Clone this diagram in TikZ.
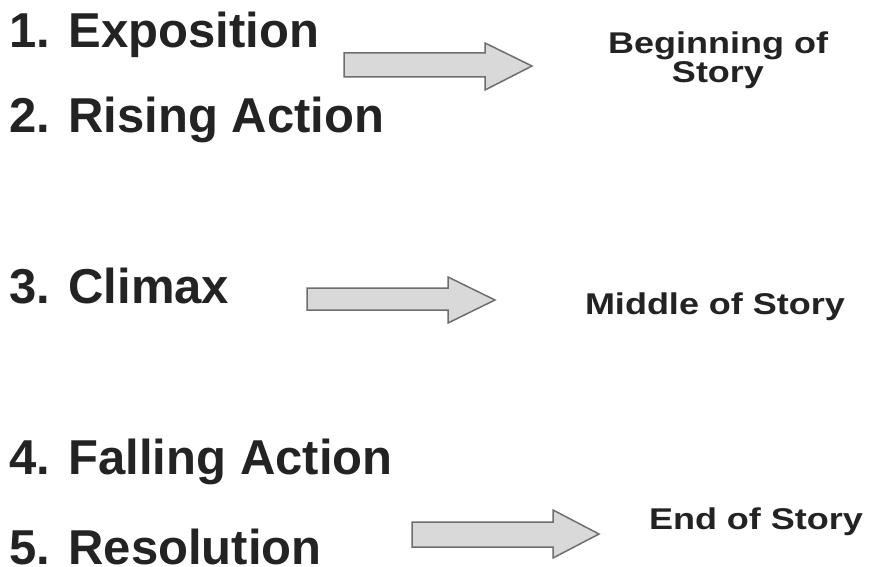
\documentclass[tikz,border=0pt]{standalone}
\usepackage{fontspec}
\setmainfont{Liberation Sans}
\frenchspacing
\definecolor{ink}{HTML}{232323}
\definecolor{arrowfill}{HTML}{D9D9D9}
\definecolor{arrowline}{HTML}{6E6E6E}
\newcommand{\numgap}{\hspace{18.5pt}}
\begin{document}
\begin{tikzpicture}[x=1pt,y=-1pt,
  stage/.style={anchor=base west,inner sep=0pt,text=ink,font=\fontsize{49}{55}\selectfont\bfseries},
  part/.style={anchor=base,inner sep=0pt,text=ink,align=center,font=\fontsize{30}{29}\selectfont\bfseries},
  blockarrow/.style={fill=arrowfill,draw=arrowline,line width=1.5pt,line join=miter}]
\useasboundingbox (0,0) rectangle (872,567);
\fill[white] (0,0) rectangle (872,567);
% left stage labels
\node[stage] (s1) at (9,48) {1.\numgap Exposition};
\node[stage] (s2) at (9,132) {2.\numgap Rising Action};
\node[stage] (s3) at (9,303) {3.\numgap Climax};
\node[stage] (s4) at (9,474) {4.\numgap Falling Action};
\node[stage] (s5) at (9,564) {5.\numgap Resolution};
% right part labels
\node[part] (p1) at (718,54) {\scalebox{1.2}[1]{Beginning of}};
\node[part] (p1b) at (718,83) {\scalebox{1.2}[1]{Story}};
\node[part] (p2) at (715,314) {\scalebox{1.2}[1]{Middle of Story}};
\node[part] (p3) at (756,529) {\scalebox{1.2}[1]{End of Story}};
% block arrows
\draw[blockarrow] (344,53) -- (485,53) -- (485,43) -- (532,66) -- (485,90) -- (485,77) -- (344,77) -- cycle;
\draw[blockarrow] (307,288) -- (448,288) -- (448,277) -- (495,300) -- (448,323) -- (448,310) -- (307,310) -- cycle;
\draw[blockarrow] (412,522) -- (553,522) -- (553,510) -- (599,534) -- (553,558) -- (553,547) -- (412,547) -- cycle;
\end{tikzpicture}
\end{document}
